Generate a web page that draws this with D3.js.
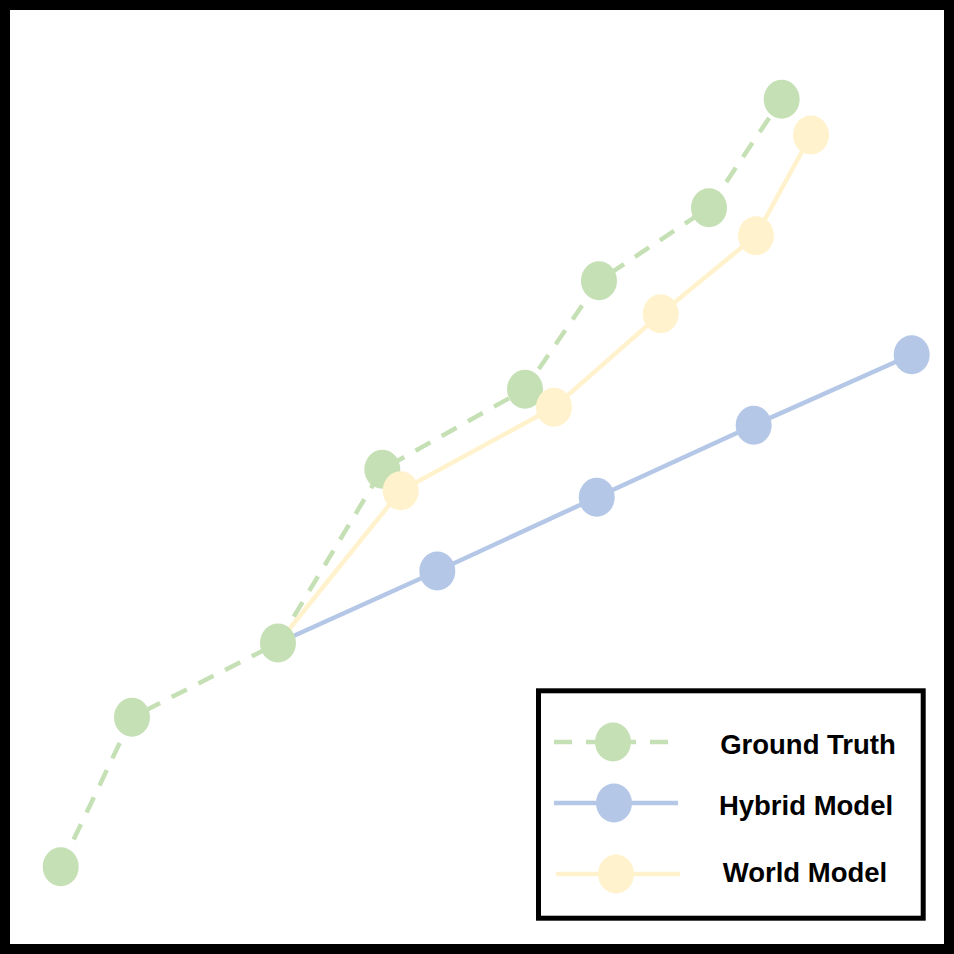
<!DOCTYPE html>
<html>
<head>
<meta charset="utf-8">
<script src="https://cdn.jsdelivr.net/npm/d3@7/dist/d3.min.js"></script>
<style>
html,body{margin:0;padding:0;background:#fff;}
svg{display:block;}
</style>
</head>
<body>
<svg id="chart" width="954" height="954"></svg>
<script>
// ---- data ----
const seriesNames = ["Ground Truth", "Hybrid Model", "World Model"];
const groundTruthX = [5.43, 13.06, 28.69, 39.86, 55.14, 63.06, 74.84, 82.62];
const groundTruthY = [8.28, 24.27, 32.23, 50.82, 59.39, 71.02, 78.83, 90.44];
const hybridX = [28.69, 45.75, 62.82, 79.62, 96.54];
const hybridY = [32.23, 39.94, 47.83, 55.54, 63.09];
const worldX = [28.69, 41.83, 58.24, 69.67, 79.87, 85.76];
const worldY = [32.23, 48.53, 57.46, 67.48, 75.84, 86.62];

// ---- layout / style ----
const W = 954, H = 954;
const colors = {"Ground Truth": "#c5e0b4", "Hybrid Model": "#b4c7e7", "World Model": "#fff2cc"};
const svg = d3.select("#chart");

const x = d3.scaleLinear().domain([0, 100]).range([10, 944]);
const y = d3.scaleLinear().domain([0, 100]).range([944, 10]);

const zip = (xs, ys) => xs.map((v, i) => ({x: v, y: ys[i]}));
const series = [
  {name: "Ground Truth", pts: zip(groundTruthX, groundTruthY), dash: "17,13", skipFirst: false},
  {name: "Hybrid Model", pts: zip(hybridX, hybridY), dash: null, skipFirst: true},
  {name: "World Model", pts: zip(worldX, worldY), dash: null, skipFirst: true}
];

const line = d3.line().x(d => x(d.x)).y(d => y(d.y));
const RX = 18, RY = 19.5, SW = 4.5;

// lines: models first, then ground truth
const lineOrder = [series[1], series[2], series[0]];
lineOrder.forEach(s => {
  svg.append("path")
    .attr("d", line(s.pts))
    .attr("fill", "none")
    .attr("stroke", colors[s.name])
    .attr("stroke-width", SW)
    .attr("stroke-dasharray", s.dash)
    .attr("stroke-linecap", "butt");
});

// markers
series.forEach(s => {
  const pts = s.skipFirst ? s.pts.slice(1) : s.pts;
  svg.append("g").selectAll("ellipse").data(pts).join("ellipse")
    .attr("cx", d => x(d.x))
    .attr("cy", d => y(d.y))
    .attr("rx", RX).attr("ry", RY)
    .attr("fill", colors[s.name]);
});

// outer frame
svg.append("rect")
  .attr("x", 5).attr("y", 5).attr("width", W - 10).attr("height", H - 10)
  .attr("fill", "none").attr("stroke", "#000").attr("stroke-width", 10);

// legend
const lg = svg.append("g");
lg.append("rect")
  .attr("x", 538.5).attr("y", 690.8).attr("width", 384.7).attr("height", 227.4)
  .attr("fill", "#fff").attr("stroke", "#000").attr("stroke-width", 5);

const legendRows = [
  {name: "Ground Truth", y: 742, x1: 554, x2: 678, cx: 613, dash: "18,14", tx: 808, ty: 754},
  {name: "Hybrid Model", y: 803, x1: 554, x2: 678, cx: 614, dash: null, tx: 806, ty: 815},
  {name: "World Model", y: 874, x1: 556, x2: 680, cx: 616, dash: null, tx: 805, ty: 882}
];
legendRows.forEach(r => {
  lg.append("line")
    .attr("x1", r.x1).attr("x2", r.x2).attr("y1", r.y).attr("y2", r.y)
    .attr("stroke", colors[r.name]).attr("stroke-width", SW)
    .attr("stroke-dasharray", r.dash);
  lg.append("ellipse")
    .attr("cx", r.cx).attr("cy", r.y).attr("rx", RX).attr("ry", RY)
    .attr("fill", colors[r.name]);
  lg.append("text")
    .attr("x", r.tx).attr("y", r.ty)
    .attr("text-anchor", "middle")
    .attr("font-family", "Liberation Sans, Arial, sans-serif")
    .attr("font-weight", "bold")
    .attr("font-size", 27.5)
    .attr("fill", "#000")
    .text(r.name);
});
</script>
</body>
</html>
